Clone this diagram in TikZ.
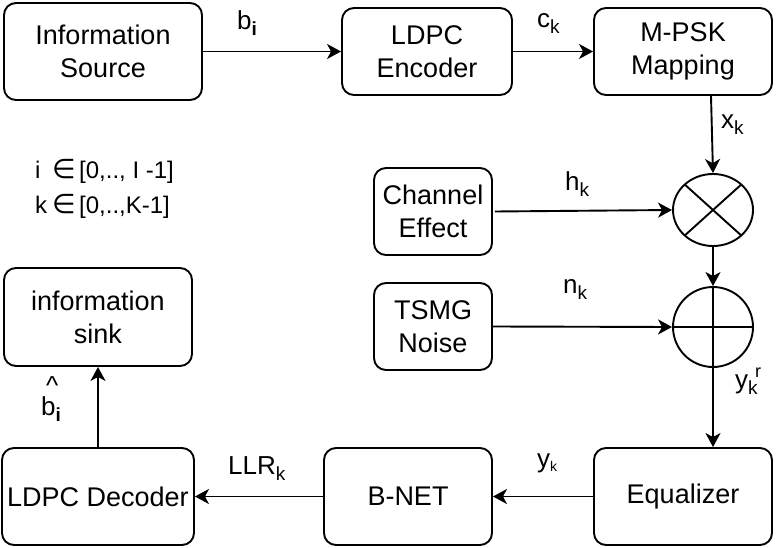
\documentclass[tikz,border=0pt]{standalone}
\usepackage{fontspec}
\setmainfont{Liberation Sans}
\newfontfamily\dvfont{DejaVu Sans}
\usetikzlibrary{arrows.meta,shapes.geometric}
\newcommand\lowsub[1]{\raisebox{-6pt}{\fontsize{19}{19}\selectfont #1}}
\newcommand\elemof{\makebox[27pt][l]{\dvfont\fontsize{27}{27}\selectfont ∈}}
\begin{document}
\begin{tikzpicture}[x=1pt,y=-1pt,
  box/.style={draw, line width=1.9pt, rounded corners=12pt, align=center,
    font=\fontsize{27}{33}\selectfont, inner sep=0pt},
  arr/.style={line width=1.9pt, -{Stealth[length=14pt,width=15pt,inset=4pt]}},
  lbl/.style={anchor=base west, inner sep=0pt, font=\fontsize{26}{30}\selectfont},
  rng/.style={anchor=base west, inner sep=0pt, font=\fontsize{24}{24}\selectfont},
]
\useasboundingbox (0,0) rectangle (776,548);

% boxes
\node[box, minimum width=198, minimum height=97] (src) at (103,51.5) {Information\\ Source};
\node[box, minimum width=170, minimum height=87] (enc) at (427,51.5) {LDPC\\Encoder};
\node[box, minimum width=178, minimum height=87] (map) at (683,51.5) {M-PSK\\Mapping};
\node[box, minimum width=118, minimum height=87] (chan) at (433,211.5) {Channel\\Effect};
\node[box, minimum width=118, minimum height=87] (noise) at (433,326.5) {TSMG\\Noise};
\node[box, minimum width=188, minimum height=98] (sink) at (98,317) {information\\sink};
\node[box, minimum width=192, minimum height=97] (dec) at (98,496.5) {LDPC Decoder};
\node[box, minimum width=168, minimum height=97] (bnet) at (408,496.5) {B-NET};
\node[box, minimum width=178, minimum height=97] (eq) at (683,496.5) {Equalizer};

% multiplier and adder
\node[draw, ellipse, line width=1.9pt, minimum width=80, minimum height=72, inner sep=0pt] (mult) at (713,210) {};
\draw[line width=1.9pt] ([shift={(-28.3,-25.5)}]mult.center) -- ([shift={(28.3,25.5)}]mult.center);
\draw[line width=1.9pt] ([shift={(-28.3,25.5)}]mult.center) -- ([shift={(28.3,-25.5)}]mult.center);
\node[draw, circle, line width=1.9pt, minimum size=80, inner sep=0pt] (plus) at (713,327) {};
\draw[line width=1.9pt] (plus.north) -- (plus.south);
\draw[line width=1.9pt] (plus.west) -- (plus.east);

% connectors
\draw[arr] (src.east) -- (enc.west);
\draw[arr] (enc.east) -- (map.west);
\draw[arr] ([xshift=28pt]map.south) -- (mult.north);
\draw[arr] ([xshift=2pt]chan.east) -- (mult.west);
\draw[arr] (mult.south) -- (plus.north);
\draw[arr] (noise.east) -- (plus.west);
\draw[arr] (plus.south) -- ([xshift=30pt]eq.north);
\draw[arr] (eq.west) -- (bnet.east);
\draw[arr] (bnet.west) -- (dec.east);
\draw[arr] (dec.north) -- (sink.south);

% labels
\node[lbl] (lb) at (237,30) {b\lowsub{\textbf{i}}};
\node[lbl] (lc) at (537,28) {c\lowsub{k}};
\node[lbl] (lx) at (721,129) {x\lowsub{k}};
\node[lbl] (lh) at (565,190) {h\lowsub{k}};
\node[lbl] (ln) at (563,293) {n\lowsub{k}};
\node[lbl] (lyr) at (735,388) {y\rlap{\lowsub{k}}\hspace{7pt}\raisebox{11pt}{\fontsize{18}{18}\selectfont r}};
\node[lbl] (ly) at (537,467) {y\raisebox{-4pt}{\fontsize{14}{14}\selectfont k}};
\node[lbl] (llr) at (228,474) {LLR\lowsub{k}};
\node[lbl] (lbh) at (41,415) {\rlap{\hspace{5pt}\raisebox{21pt}{\^{}}}b\lowsub{\textbf{i}}};

% index ranges
\node[rng] (ri) at (35,179) {\makebox[17pt][l]{i}\elemof[0,.., I -1]};
\node[rng] (rk) at (35,213) {\makebox[17pt][l]{k}\elemof[0,..,K-1]};
\end{tikzpicture}
\end{document}
